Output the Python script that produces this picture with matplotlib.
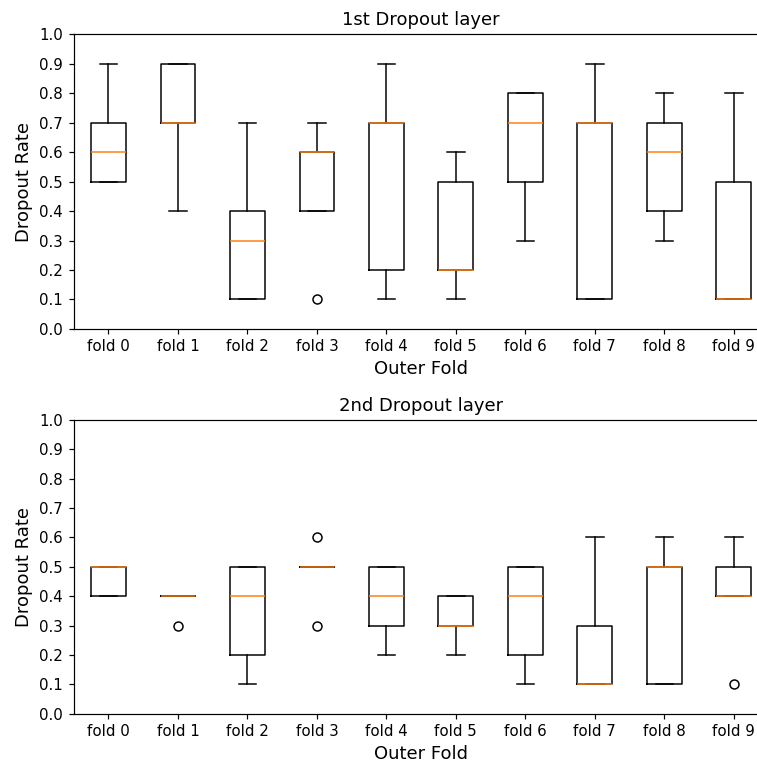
import matplotlib
matplotlib.use("Agg")
import matplotlib.pyplot as plt

folds = [f"fold {i}" for i in range(10)]

# 1st dropout layer box stats
l1_whislo = [0.5, 0.4, 0.1, 0.4, 0.1, 0.1, 0.3, 0.1, 0.3, 0.1]
l1_q1     = [0.5, 0.7, 0.1, 0.4, 0.2, 0.2, 0.5, 0.1, 0.4, 0.1]
l1_med    = [0.6, 0.7, 0.3, 0.6, 0.7, 0.2, 0.7, 0.7, 0.6, 0.1]
l1_q3     = [0.7, 0.9, 0.4, 0.6, 0.7, 0.5, 0.8, 0.7, 0.7, 0.5]
l1_whishi = [0.9, 0.9, 0.7, 0.7, 0.9, 0.6, 0.8, 0.9, 0.8, 0.8]
l1_fliers = [[], [], [], [0.1], [], [], [], [], [], []]

# 2nd dropout layer box stats
l2_whislo = [0.4, 0.4, 0.1, 0.5, 0.2, 0.2, 0.1, 0.1, 0.1, 0.4]
l2_q1     = [0.4, 0.4, 0.2, 0.5, 0.3, 0.3, 0.2, 0.1, 0.1, 0.4]
l2_med    = [0.5, 0.4, 0.4, 0.5, 0.4, 0.3, 0.4, 0.1, 0.5, 0.4]
l2_q3     = [0.5, 0.4, 0.5, 0.5, 0.5, 0.4, 0.5, 0.3, 0.5, 0.5]
l2_whishi = [0.5, 0.4, 0.5, 0.5, 0.5, 0.4, 0.5, 0.6, 0.6, 0.6]
l2_fliers = [[], [0.3], [], [0.3, 0.6], [], [], [], [], [], [0.1]]

titles = ["1st Dropout layer", "2nd Dropout layer"]


def make_stats(wl, q1, med, q3, wh, fl):
    return [dict(whislo=a, q1=b, med=c, q3=d, whishi=e, fliers=f, label=lab)
            for a, b, c, d, e, f, lab in zip(wl, q1, med, q3, wh, fl, folds)]


stats = [make_stats(l1_whislo, l1_q1, l1_med, l1_q3, l1_whishi, l1_fliers),
         make_stats(l2_whislo, l2_q1, l2_med, l2_q3, l2_whishi, l2_fliers)]

DPI = 108
fig = plt.figure(figsize=(757 / DPI, 764 / DPI), dpi=DPI)
positions = [(0.0973, 0.5694, 0.918, 0.386), (0.0973, 0.0656, 0.918, 0.385)]

for pos, st, title in zip(positions, stats, titles):
    ax = fig.add_axes(pos)
    ax.bxp(st, showfliers=True)
    ax.set_ylim(0, 1.0)
    ax.set_yticks([i / 10 for i in range(11)])
    ax.set_title(title, fontsize=12)
    ax.set_xlabel("Outer Fold", fontsize=12)
    ax.set_ylabel("Dropout Rate", fontsize=12)
    ax.tick_params(labelsize=10)

fig.savefig("out.png", dpi=DPI)
